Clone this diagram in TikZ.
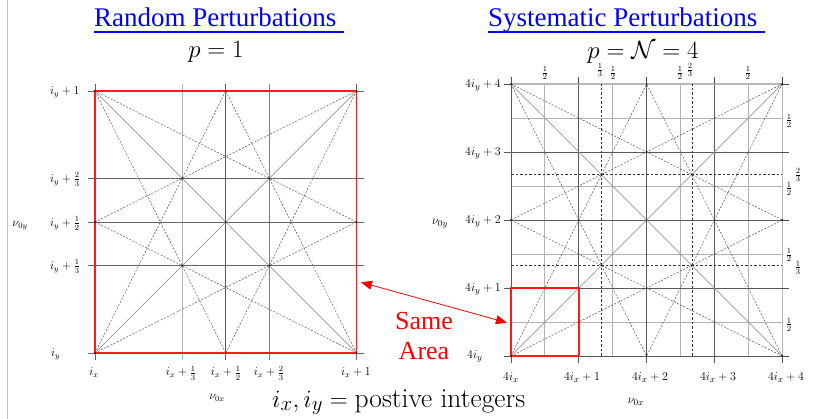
\documentclass[tikz,border=0pt]{standalone}
\usepackage{fontspec}
\newfontfamily\timesf{Liberation Serif}
\usetikzlibrary{arrows.meta}
\begin{document}
\begin{tikzpicture}[x=1pt,y=-1pt,
  gridl/.style={line width=0.9pt, draw=black!60},
  halfl/.style={line width=0.9pt, draw=black!30},
  thirdl/.style={line width=0.6pt, draw=black!80, dash pattern=on 2.5pt off 2pt},
  diagl/.style={line width=0.7pt, draw=black!40},
  dashl/.style={line width=0.5pt, draw=black!65, dash pattern=on 2pt off 1.5pt},
  redbox/.style={draw=red!90, line width=1.4pt},
  labL/.style={font=\fontsize{12}{14}\selectfont, inner sep=0pt},
  labR/.style={font=\fontsize{12.5}{14}\selectfont, inner sep=0pt},
  fraclab/.style={font=\fontsize{11}{13}\selectfont, inner sep=0pt},
  dot/.style={circle, fill=black, inner sep=0pt, minimum size=1.6pt},
  title/.style={font=\timesf\fontsize{27}{32}\selectfont, text=blue, inner sep=0pt},
  eqn/.style={font=\fontsize{25}{30}\selectfont, inner sep=0pt},
  arr/.style={draw=red, line width=0.8pt, {Triangle[length=11pt,width=9pt]}-{Triangle[length=11pt,width=9pt]}}
]
\useasboundingbox (0,0) rectangle (838,419);
\fill[white] (0,0) rectangle (838,419);
\draw[black!25, line width=0.8pt] (7,0) -- (7,419);

% ---------- titles ----------
\node[title, anchor=base west] (t1) at (94,27) {Random Perturbations};
\draw[blue, line width=1.3pt] ([yshift=-5pt]t1.base west) -- ([xshift=7pt,yshift=-5pt]t1.base east);
\node[eqn, anchor=base] (e1) at (216,57.5) {$p=1$};

\node[title, anchor=base west] (t2) at (488,27) {Systematic Perturbations};
\draw[blue, line width=1.3pt] ([yshift=-5pt]t2.base west) -- ([xshift=7pt,yshift=-5pt]t2.base east);
\node[eqn, anchor=base] (e2) at (643,59) {$p=\mathcal{N}=4$};

% ---------- left plot ----------
\begin{scope}[shift={(95pt,-353pt)}, x=261.5pt, y=262pt]
  \def\e{0.0268}
  \draw[gridl] (0,-\e) -- (0,1+\e);
  \draw[line width=0.9pt, draw=black!30] (1/3,-\e) -- (1/3,1+\e);
  \draw[line width=0.9pt, draw=black!65] (1/2,-\e) -- (1/2,1+\e);
  \draw[line width=0.9pt, draw=black!50] (2/3,-\e) -- (2/3,1+\e);
  \draw[gridl] (1,-\e) -- (1,1+\e);
  \foreach \h in {0,1/3,1/2,2/3,1} \draw[gridl] (-\e,\h) -- (1+\e,\h);
  \draw[diagl] (0,0) -- (1,1);
  \draw[diagl] (0,1) -- (1,0);
  \draw[dashl] (0,0) -- (1/2,1) (0,0) -- (1,1/2);
  \draw[dashl] (1,0) -- (1/2,1) (1,0) -- (0,1/2);
  \draw[dashl] (0,1) -- (1/2,0) (0,1) -- (1,1/2);
  \draw[dashl] (1,1) -- (1/2,0) (1,1) -- (0,1/2);
  \draw[redbox] (0,0) rectangle (1,1);
  \foreach \p in {(0,0),(1,0),(0,1),(1,1),(1/2,0),(1/2,1),(0,1/2),(1,1/2),(1/3,1/3),(1/3,2/3),(2/3,1/3),(2/3,2/3),(1/2,1/2)}
    \node[dot] at \p {};
  \coordinate (arrL) at (1+0.017,0.27);
\end{scope}

\node[labL, anchor=base west] (ly1) at (50,95) {$i_y+1$};
\node[labL, anchor=base west] (ly2) at (50,182.5) {$i_y+\frac23$};
\node[labL, anchor=base west] (ly3) at (50,226.5) {$i_y+\frac12$};
\node[labL, anchor=base west] (ly4) at (50,269.5) {$i_y+\frac13$};
\node[labL, anchor=base west] (ly5) at (51,356.5) {$i_y$};
\node[labL] (nuyL) at (20,226) {$\nu_{0y}$};
\node[labL, anchor=base] (lx1) at (94,376) {$i_x$};
\node[labL, anchor=base] (lx2) at (181,376) {$i_x+\frac13$};
\node[labL, anchor=base] (lx3) at (226,376) {$i_x+\frac12$};
\node[labL, anchor=base] (lx4) at (269,376) {$i_x+\frac23$};
\node[labL, anchor=base] (lx5) at (356,376) {$i_x+1$};
\node[labL] (nuxL) at (217,398) {$\nu_{0x}$};

% ---------- right plot ----------
\begin{scope}[shift={(511pt,-356pt)}, x=67.8pt, y=68pt]
  \def\e{0.103}
  \foreach \v in {0.5,1.5,2.5,3.5} {
    \draw[halfl] (\v,0) -- (\v,4);
    \draw[halfl] (0,\v) -- (4,\v);
  }
  \foreach \v in {1,2,3} {
    \draw[line width=0.9pt, draw=black!65] (\v,-\e) -- (\v,4+\e);
    \draw[line width=0.9pt, draw=black!65] (-\e,\v) -- (4+\e,\v);
  }
  \draw[line width=0.9pt, draw=black!65] (0,-\e) -- (0,4+\e);
  \draw[line width=0.9pt, draw=black!65] (-\e,0) -- (4+\e,0);
  \draw[line width=1.2pt, draw=black!28] (4,0) -- (4,4);
  \draw[line width=1.2pt, draw=black!28] (0,4) -- (4,4);
  \draw[line width=0.9pt, draw=black!70] (4,-\e) -- (4,0) (4,4) -- (4,4+\e) (4,1) -- (4+\e,1) (4,2) -- (4+\e,2) (4,3) -- (4+\e,3) (4,0) -- (4+\e,0) (4,4) -- (4+\e,4);
  \draw[line width=0.9pt, draw=black!70] (-\e,4) -- (0,4) (0,4) -- (0,4+\e) (1,4) -- (1,4+\e) (2,4) -- (2,4+\e) (3,4) -- (3,4+\e);
  \foreach \v in {4/3,8/3} {
    \draw[thirdl] (\v,0) -- (\v,4);
    \draw[thirdl] (0,\v) -- (4,\v);
  }
  \draw[diagl] (0,0) -- (4,4);
  \draw[diagl] (0,4) -- (4,0);
  \draw[dashl] (0,0) -- (2,4) (0,0) -- (4,2);
  \draw[dashl] (4,0) -- (2,4) (4,0) -- (0,2);
  \draw[dashl] (0,4) -- (2,0) (0,4) -- (4,2);
  \draw[dashl] (4,4) -- (2,0) (4,4) -- (0,2);
  \draw[redbox] (0,0) rectangle (1,1);
  \foreach \p in {(0,0),(4,0),(0,4),(4,4),(2,0),(2,4),(0,2),(4,2),(4/3,4/3),(4/3,8/3),(8/3,4/3),(8/3,8/3),(2,2),(1,2),(3,2),(2,1),(2,3)}
    \node[dot] at \p {};
  \coordinate (arrR) at (-0.06,0.49);
\end{scope}

\node[labR, anchor=base west] (ry1) at (465,87.5) {$4i_y+4$};
\node[labR, anchor=base west] (ry2) at (465,155.5) {$4i_y+3$};
\node[labR, anchor=base west] (ry3) at (465,223.5) {$4i_y+2$};
\node[labR, anchor=base west] (ry4) at (465,291.5) {$4i_y+1$};
\node[labR, anchor=base west] (ry5) at (467,359) {$4i_y$};
\node[labR] (nuyR) at (440,224) {$\nu_{0y}$};
\node[labR, anchor=base] (rx1) at (511,381) {$4i_x$};
\node[labR, anchor=base] (rx2) at (582,381) {$4i_x+1$};
\node[labR, anchor=base] (rx3) at (650,381) {$4i_x+2$};
\node[labR, anchor=base] (rx4) at (718,381) {$4i_x+3$};
\node[labR, anchor=base] (rx5) at (786,381) {$4i_x+4$};
\node[labR] (nuxR) at (636,402) {$\nu_{0x}$};

% fraction labels
\node[fraclab] (ft1) at (545,73) {$\frac12$};
\node[fraclab] (ft2) at (600,70) {$\frac13$};
\node[fraclab] (ft3) at (613,73) {$\frac12$};
\node[fraclab] (ft4) at (680,73) {$\frac12$};
\node[fraclab] (ft5) at (690,70) {$\frac23$};
\node[fraclab] (ft6) at (748,73) {$\frac12$};
\node[fraclab] (fr1) at (789,120.5) {$\frac12$};
\node[fraclab] (fr2) at (798,175) {$\frac23$};
\node[fraclab] (fr3) at (789,188.5) {$\frac12$};
\node[fraclab] (fr4) at (789,255) {$\frac12$};
\node[fraclab] (fr5) at (798,267.5) {$\frac13$};
\node[fraclab] (fr6) at (789,324.5) {$\frac12$};

% ---------- same area ----------
\node[font=\timesf\fontsize{26}{30}\selectfont, text=red, align=center, inner sep=0pt] (same) at (424,336) {Same\\Area};
\draw[arr] (arrL) -- (arrR);

% ---------- bottom ----------
\node[font=\fontsize{27.5}{32}\selectfont, anchor=base west, inner sep=0pt] (ints) at (272,407) {$i_x, i_y = \mbox{postive integers}$};
\end{tikzpicture}
\end{document}
